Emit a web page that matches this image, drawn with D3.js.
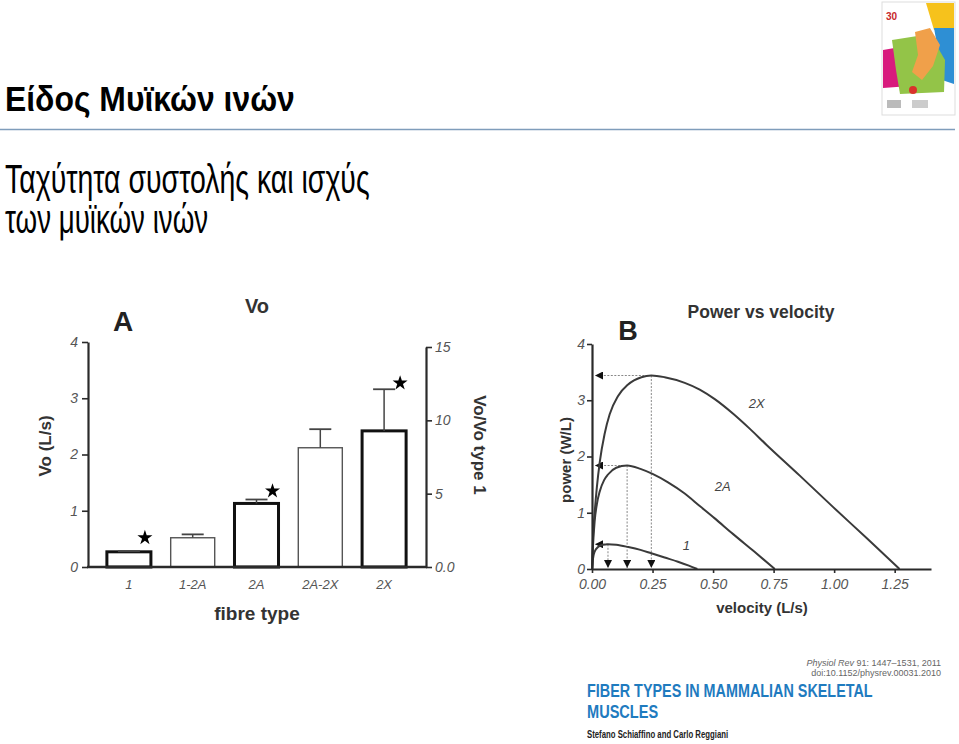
<!DOCTYPE html>
<html>
<head>
<meta charset="utf-8">
<script src="https://cdn.jsdelivr.net/npm/d3@7"></script>
<style>
  body { margin: 0; background: #fff; }
  svg { display: block; }
  text { font-family: "Liberation Sans", Arial, sans-serif; }
</style>
</head>
<body>
<svg id="chart"></svg>
<script>
// panel A data
let fibreTypes = ['1', '1-2A', '2A', '2A-2X', '2X']
let voMeans = [0.27, 0.52, 1.13, 2.12, 2.42]
let voSem = [0.01, 0.06, 0.07, 0.33, 0.74]
let starLevels = [0.52, null, 1.35, null, 3.27]
let pureType = [true, false, true, false, true]
let voTicks = [0, 1, 2, 3, 4]
let ratioTicks = [0, 5, 10, 15]

// panel B data: velocity (L/s) and power (W/L)
let curveNames = ['1', '2A', '2X']
let type1Vel = [0, 0.004, 0.011, 0.025, 0.045, 0.066, 0.1, 0.15, 0.2, 0.245, 0.3, 0.355, 0.4, 0.435]
let type1Pow = [0, 0.18, 0.31, 0.39, 0.43, 0.44, 0.43, 0.39, 0.34, 0.28, 0.205, 0.13, 0.06, 0]
let type2AVel = [0, 0.004, 0.011, 0.02, 0.032, 0.05, 0.066, 0.1, 0.145, 0.2, 0.25, 0.314, 0.38, 0.445, 0.507, 0.583, 0.67, 0.755]
let type2APow = [0, 0.4, 0.85, 1.15, 1.38, 1.58, 1.68, 1.8, 1.84, 1.78, 1.69, 1.54, 1.35, 1.12, 0.9, 0.62, 0.31, 0]
let type2XVel = [0, 0.004, 0.011, 0.02, 0.032, 0.052, 0.073, 0.107, 0.149, 0.204, 0.245, 0.3, 0.383, 0.445, 0.507, 0.583, 0.65, 0.72, 0.858, 0.996, 1.134, 1.27]
let type2XPow = [0, 0.55, 1.0, 1.45, 1.9, 2.4, 2.75, 3.07, 3.28, 3.41, 3.44, 3.41, 3.31, 3.19, 3.02, 2.76, 2.5, 2.21, 1.66, 1.1, 0.55, 0]
let peakVel = [0.066, 0.145, 0.245]
let peakPow = [0.44, 1.84, 3.44]
let labelVel = [0.39, 0.54, 0.68]
let labelPow = [0.34, 1.38, 2.87]
let powTicks = [0, 1, 2, 3, 4]
let velTicks = [0, 0.25, 0.5, 0.75, 1.0, 1.25]

let width = 959
let height = 744
let axisColor = '#2a2a2a'
let tickColor = '#555'

let svg = d3.select('#chart').attr('width', width).attr('height', height)

let defs = svg.append('defs')
defs.append('marker')
    .attr('id', 'arrow')
    .attr('viewBox', '0 0 10 10')
    .attr('refX', 10).attr('refY', 5)
    .attr('markerWidth', 8).attr('markerHeight', 8)
    .attr('markerUnits', 'userSpaceOnUse')
    .attr('orient', 'auto')
    .append('path')
    .attr('d', 'M0,0 L10,5 L0,10 Z')
    .attr('fill', '#111')

// ---------- slide header ----------
svg.append('text')
   .attr('transform', 'translate(5,111) scale(0.9,1)')
   .attr('font-size', 35).attr('font-weight', 'bold').attr('fill', '#000')
   .attr('textLength', 322).attr('lengthAdjust', 'spacingAndGlyphs')
   .text('Είδος Μυϊκών ινών')

svg.append('line')
   .attr('x1', 0).attr('x2', 955).attr('y1', 129.5).attr('y2', 129.5)
   .attr('stroke', '#7f9dbb').attr('stroke-width', 1.5)

// two-line subtitle in one text block
let subtitle = svg.append('text')
   .attr('transform', 'translate(5,193) scale(0.85,1)')
   .attr('font-family', '"Open Sans", sans-serif').attr('font-weight', 300)
   .attr('font-size', 40).attr('fill', '#000')
subtitle.append('tspan').attr('x', 0).attr('y', 0)
   .attr('textLength', 429).attr('lengthAdjust', 'spacingAndGlyphs')
   .text('Ταχύτητα συστολής και ισχύς')
subtitle.append('tspan').attr('x', 0).attr('y', 40)
   .attr('textLength', 239).attr('lengthAdjust', 'spacingAndGlyphs')
   .text('των μυϊκών ινών')

// little poster logo, top right
let logo = svg.append('g')
logo.append('rect').attr('x', 882).attr('y', 2).attr('width', 73).attr('height', 113).attr('fill', '#fff').attr('stroke', '#ddd')
logo.append('path').attr('d', 'M926,3 L954,3 L954,28 L934,30 Z').attr('fill', '#f6c21c')
logo.append('path').attr('d', 'M934,28 L954,28 L954,84 L942,80 L938,50 Z').attr('fill', '#2e8fd4')
logo.append('path').attr('d', 'M883,50 L906,46 L910,86 L883,88 Z').attr('fill', '#d81b7d')
logo.append('path').attr('d', 'M892,40 L930,34 L945,60 L944,92 L900,94 L896,70 Z').attr('fill', '#93c448')
logo.append('path').attr('d', 'M915,32 L930,28 L940,45 L933,66 L922,80 L912,72 L918,55 Z').attr('fill', '#f0a04a')
logo.append('circle').attr('cx', 913).attr('cy', 90).attr('r', 4).attr('fill', '#d9322b')
logo.append('text').attr('x', 886).attr('y', 20).attr('font-size', 10).attr('font-weight', 'bold').attr('fill', '#c8282b').text('30')
logo.append('rect').attr('x', 887).attr('y', 100).attr('width', 14).attr('height', 8).attr('fill', '#bbb')
logo.append('rect').attr('x', 912).attr('y', 100).attr('width', 16).attr('height', 8).attr('fill', '#ccc')

// ---------- panel A ----------
let xBand = d3.scaleBand()
              .domain(fibreTypes)
              .range([97, 416])
              .paddingInner(0.31)
              .paddingOuter(0.155)
let yVo = d3.scaleLinear().domain([0, 4]).range([567, 342])
let yRatio = d3.scaleLinear().domain([0, 15]).range([567, 347])

let panelA = svg.append('g')

panelA.selectAll('rect.bar')
      .data(fibreTypes)
      .enter()
      .append('rect')
      .attr('class', 'bar')
      .attr('x', (d) => xBand(d))
      .attr('width', xBand.bandwidth())
      .attr('y', (d, i) => yVo(voMeans[i]))
      .attr('height', (d, i) => yVo(0) - yVo(voMeans[i]))
      .attr('fill', '#fff')
      .attr('stroke', (d, i) => pureType[i] ? '#111' : '#555')
      .attr('stroke-width', (d, i) => pureType[i] ? 3 : 1.4)

// error bars
fibreTypes.forEach((d, i) => {
    let cx = xBand(d) + xBand.bandwidth() / 2
    let top = yVo(voMeans[i] + voSem[i])
    panelA.append('line')
          .attr('x1', cx).attr('x2', cx)
          .attr('y1', yVo(voMeans[i])).attr('y2', top)
          .attr('stroke', '#444').attr('stroke-width', 1.5)
    panelA.append('line')
          .attr('x1', cx - 11).attr('x2', cx + 11)
          .attr('y1', top).attr('y2', top)
          .attr('stroke', '#444').attr('stroke-width', 1.8)
})

panelA.selectAll('path.star')
      .data(fibreTypes.filter((d, i) => starLevels[i] != null))
      .enter()
      .append('path')
      .attr('class', 'star')
      .attr('d', d3.symbol().type(d3.symbolStar).size(70))
      .attr('transform', (d) => {
        let i = fibreTypes.indexOf(d)
        return 'translate(' + (xBand(d) + xBand.bandwidth() - 6) + ',' + yVo(starLevels[i]) + ')'
      })
      .attr('fill', '#000')

let styleAxis = (g) => {
    g.select('.domain').attr('stroke', axisColor).attr('stroke-width', 2.2)
    g.selectAll('.tick line').attr('stroke', axisColor).attr('stroke-width', 1.6)
    g.selectAll('.tick text')
     .attr('fill', tickColor)
     .attr('font-size', 14)
     .attr('font-style', 'italic')
     .attr('font-family', '"Liberation Sans", Arial, sans-serif')
}

panelA.append('g')
      .attr('transform', 'translate(88,0)')
      .call(d3.axisLeft(yVo).tickValues(voTicks).tickSize(6).tickSizeOuter(0).tickPadding(4).tickFormat(d3.format('d')))
      .call(styleAxis)

panelA.append('g')
      .attr('transform', 'translate(426,0)')
      .call(d3.axisRight(yRatio).tickValues(ratioTicks).tickSize(6).tickSizeOuter(0).tickPadding(3)
              .tickFormat((d) => d == 0 ? '0.0' : d3.format('d')(d)))
      .call(styleAxis)

panelA.append('line')
      .attr('x1', 87).attr('x2', 427).attr('y1', 567).attr('y2', 567)
      .attr('stroke', axisColor).attr('stroke-width', 2.4)

panelA.selectAll('text.cat')
      .data(fibreTypes)
      .enter()
      .append('text')
      .attr('class', 'cat')
      .attr('x', (d) => xBand(d) + xBand.bandwidth() / 2)
      .attr('y', 589)
      .attr('text-anchor', 'middle')
      .attr('font-size', 13).attr('font-style', 'italic').attr('fill', tickColor)
      .text((d) => d)

panelA.append('text').attr('x', 123).attr('y', 331).attr('text-anchor', 'middle')
      .attr('font-size', 28).attr('font-weight', 'bold').attr('fill', '#222').text('A')
panelA.append('text').attr('x', 257).attr('y', 313).attr('text-anchor', 'middle')
      .attr('font-size', 20).attr('font-weight', 'bold').attr('fill', '#333').text('Vo')
panelA.append('text').attr('x', 257).attr('y', 620).attr('text-anchor', 'middle')
      .attr('font-size', 19).attr('font-weight', 'bold').attr('fill', '#333').text('fibre type')
panelA.append('text').attr('transform', 'translate(51,446) rotate(-90)').attr('text-anchor', 'middle')
      .attr('font-size', 17).attr('font-weight', 'bold').attr('fill', '#333').text('Vo (L/s)')
panelA.append('text').attr('transform', 'translate(474,445) rotate(90)').attr('text-anchor', 'middle')
      .attr('font-size', 17).attr('font-weight', 'bold').attr('fill', '#333').text('Vo/Vo type 1')

// ---------- panel B ----------
let xVel = d3.scaleLinear().domain([0, 1.4]).range([592, 931])
let yPow = d3.scaleLinear().domain([0, 4]).range([569, 344])

let panelB = svg.append('g')

let curves = [
    d3.zip(type1Vel, type1Pow),
    d3.zip(type2AVel, type2APow),
    d3.zip(type2XVel, type2XPow)
]

let line = d3.line()
             .x((d) => xVel(d[0]))
             .y((d) => yPow(d[1]))
             .curve(d3.curveMonotoneX)

// guide lines to the peaks
curveNames.forEach((name, i) => {
    panelB.append('line')
          .attr('x1', xVel(peakVel[i])).attr('x2', xVel(0) + 3)
          .attr('y1', yPow(peakPow[i])).attr('y2', yPow(peakPow[i]))
          .attr('stroke', '#888').attr('stroke-width', 1).attr('stroke-dasharray', '2,1.5')
          .attr('marker-end', 'url(#arrow)')
    panelB.append('line')
          .attr('x1', xVel(peakVel[i])).attr('x2', xVel(peakVel[i]))
          .attr('y1', yPow(peakPow[i])).attr('y2', yPow(0) - 1)
          .attr('stroke', '#888').attr('stroke-width', 1).attr('stroke-dasharray', '2,1.5')
          .attr('marker-end', 'url(#arrow)')
})

panelB.selectAll('path.curve')
      .data(curves)
      .enter()
      .append('path')
      .attr('class', 'curve')
      .attr('d', line)
      .attr('fill', 'none')
      .attr('stroke', '#3a3a3a')
      .attr('stroke-width', 2)

panelB.selectAll('text.clabel')
      .data(curveNames)
      .enter()
      .append('text')
      .attr('class', 'clabel')
      .attr('x', (d, i) => xVel(labelVel[i]))
      .attr('y', (d, i) => yPow(labelPow[i]))
      .attr('text-anchor', 'middle')
      .attr('font-size', 13).attr('font-style', 'italic').attr('fill', '#444')
      .text((d) => d)

panelB.append('g')
      .attr('transform', 'translate(592,0)')
      .call(d3.axisLeft(yPow).tickValues(powTicks).tickSize(5).tickSizeOuter(0).tickPadding(2).tickFormat(d3.format('d')))
      .call(styleAxis)

panelB.append('g')
      .attr('transform', 'translate(0,569)')
      .call(d3.axisBottom(xVel).tickValues(velTicks).tickSize(4).tickSizeOuter(0).tickPadding(6).tickFormat(d3.format('.2f')))
      .call(styleAxis)

panelB.append('text').attr('x', 628).attr('y', 340).attr('text-anchor', 'middle')
      .attr('font-size', 27).attr('font-weight', 'bold').attr('fill', '#222').text('B')
panelB.append('text').attr('x', 761).attr('y', 318).attr('text-anchor', 'middle')
      .attr('font-size', 17.5).attr('font-weight', 'bold').attr('fill', '#333')
      .text('Power vs velocity')
panelB.append('text').attr('transform', 'translate(571,460) rotate(-90)').attr('text-anchor', 'middle')
      .attr('font-size', 15).attr('font-weight', 'bold').attr('fill', '#333').text('power (W/L)')
panelB.append('text').attr('x', 762).attr('y', 613).attr('text-anchor', 'middle')
      .attr('font-size', 15).attr('font-weight', 'bold').attr('fill', '#333').text('velocity (L/s)')

// ---------- citation ----------
let cite = svg.append('g')
let ref1 = cite.append('text').attr('x', 941).attr('y', 666).attr('text-anchor', 'end')
               .attr('font-size', 9).attr('fill', '#666')
ref1.append('tspan').attr('font-style', 'italic').text('Physiol Rev ')
ref1.append('tspan').text('91: 1447–1531, 2011')
cite.append('text').attr('x', 941).attr('y', 676).attr('text-anchor', 'end')
    .attr('font-size', 9).attr('fill', '#666').text('doi:10.1152/physrev.00031.2010')
cite.append('text').attr('transform', 'translate(587,697) scale(0.8,1)')
    .attr('font-size', 19).attr('font-weight', 'bold').attr('fill', '#1f7bbf')
    .attr('textLength', 357).attr('lengthAdjust', 'spacingAndGlyphs')
    .text('FIBER TYPES IN MAMMALIAN SKELETAL')
cite.append('text').attr('transform', 'translate(587,718) scale(0.8,1)')
    .attr('font-size', 19).attr('font-weight', 'bold').attr('fill', '#1f7bbf')
    .attr('textLength', 89).attr('lengthAdjust', 'spacingAndGlyphs')
    .text('MUSCLES')
cite.append('text').attr('transform', 'translate(587,738) scale(0.85,1)')
    .attr('font-size', 10).attr('font-weight', 'bold').attr('fill', '#222')
    .attr('textLength', 166).attr('lengthAdjust', 'spacingAndGlyphs')
    .text('Stefano Schiaffino and Carlo Reggiani')
</script>
</body>
</html>
